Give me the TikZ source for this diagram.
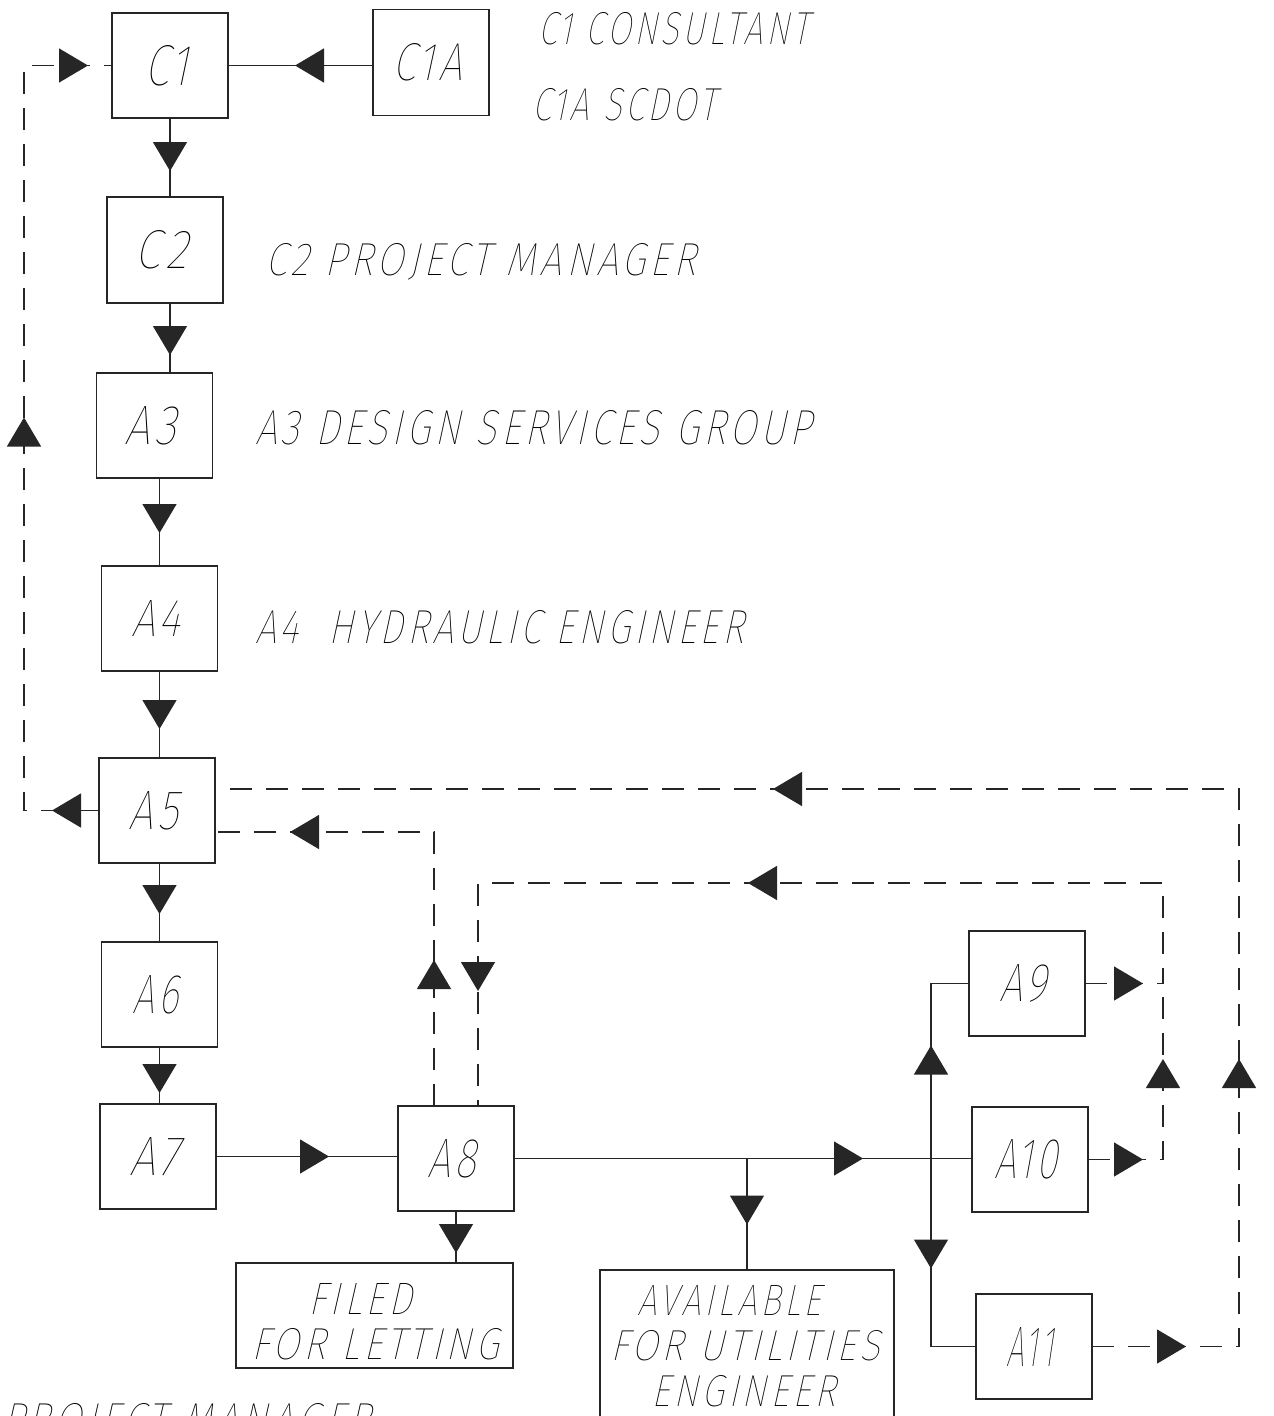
\documentclass[tikz,border=0pt]{standalone}
\usepackage{graphicx}
\usepackage{fontspec}
\usetikzlibrary{arrows.meta,decorations.markings}
\def\cadname{Liberation Sans}
\IfFontExistsTF{Latin Modern Mono Light Cond}{\def\cadname{Latin Modern Mono Light Cond}}{}
\IfFontExistsTF{Poppins Light}{\def\cadname{Poppins Light}}{}
\IfFontExistsTF{Lato Light}{\def\cadname{Lato Light}}{}
\IfFontExistsTF{Fira Sans Light}{\def\cadname{Fira Sans Light}}{}
\IfFontExistsTF{Fira Sans ExtraLight}{\def\cadname{Fira Sans ExtraLight}}{}
\IfFontExistsTF{Fira Sans Thin}{\def\cadname{Fira Sans Thin}}{}
\newfontfamily\cad[FakeSlant=0.27,LetterSpace=10]{\cadname}
\newcommand\cadtxt[3]{\resizebox{#1pt}{#2pt}{\cad\fontsize{50}{60}\selectfont #3}}
\newcommand\boxlbl[3]{\cadtxt{#1}{#2}{#3}\hspace*{8pt}}
\tikzset{
  tri/.tip={Triangle[length=29pt,width=34pt]},
  arrowat/.style={postaction={decorate,decoration={markings,mark=at position #1 with {\arrow{tri}}}}},
  conn/.style={line width=1.3pt, draw=black!85},
  dsh/.style={conn, dash pattern=on 22pt off 14pt},
  box/.style={draw=black!85, line width=1.3pt, minimum width=116pt, minimum height=105pt, inner sep=0pt, outer sep=0pt},
  lbl/.style={anchor=base west, inner sep=0pt, outer sep=0pt},
}
\begin{document}
\begin{tikzpicture}[x=1pt,y=-1pt]
\fill[white] (0,0) rectangle (1274,1416);
\useasboundingbox (0,0) rectangle (1274,1416);

% boxes
\node[box] (C1)  at (170,65.5)  {\boxlbl{44}{40}{C1}};
\node[box, minimum height=106pt] (C1A) at (431,62.5) {\boxlbl{70}{37}{C1A}};
\node[box, minimum height=106pt] (C2)  at (165,250) {\boxlbl{52}{38}{C2}};
\node[box] (A3)  at (154.5,425.5) {\boxlbl{52}{38}{A3}};
\node[box] (A4)  at (159.5,618.5) {\boxlbl{49}{36}{A4}};
\node[box] (A5)  at (157,810.5)   {\boxlbl{50}{38}{A5}};
\node[box] (A6)  at (159.5,994.5) {\boxlbl{46}{38}{A6}};
\node[box] (A7)  at (158,1156.5)  {\boxlbl{50}{38}{A7}};
\node[box] (A8)  at (456,1158.5)  {\boxlbl{49}{38}{A8}};
\node[box] (A9)  at (1027,983.5)  {\boxlbl{48}{37}{A9}};
\node[box] (A10) at (1030,1159.5) {\boxlbl{64}{39}{A10}};
\node[box] (A11) at (1034,1346.5) {\boxlbl{47}{39}{A11}};
\node[box, minimum width=277pt] (FILED) at (374.5,1315.5) {};
\node[box, minimum width=294pt, minimum height=170pt] (AV) at (747,1355) {};

% texts
\node[lbl] (tC1)  at (538,45)  {\cadtxt{271}{32}{C1 CONSULTANT}};
\node[lbl] (tC1A) at (532,120) {\cadtxt{184}{32}{C1A SCDOT}};
\node[lbl] (tC2)  at (265,275) {\cadtxt{431}{32}{C2 PROJECT MANAGER}};
\node[lbl] (tA3)  at (255,444) {\cadtxt{557}{34}{A3 DESIGN SERVICES GROUP}};
\node[lbl] (tA4)  at (255,643) {\cadtxt{489}{33}{A4\ \ HYDRAULIC ENGINEER}};
\node[lbl] (tF1)  at (308,1314) {\cadtxt{104}{31}{FILED}};
\node[lbl] (tF2)  at (251,1359) {\cadtxt{248}{31}{FOR LETTING}};
\node[lbl] (tV1)  at (637,1315) {\cadtxt{184}{30}{AVAILABLE}};
\node[lbl] (tV2)  at (610,1360) {\cadtxt{270}{30}{FOR UTILITIES}};
\node[lbl] (tV3)  at (651,1406) {\cadtxt{185}{31}{ENGINEER}};
\node[lbl] (tPM)  at (2,1435)  {\cadtxt{369}{32}{PROJECT MANAGER}};

% helper coordinates
\coordinate (cL) at (24,0);
\coordinate (u1) at (434,832);
\coordinate (u2) at (1163,883);
\coordinate (v2) at (478,883);
\coordinate (u3) at (1239,789);
\coordinate (j2) at (931,1158.5);

% solid connectors
\draw[conn, arrowat=53pt] (C1.south) -- (C1.south |- C2.north);
\draw[conn, arrowat=52pt] (C1.south |- C2.south) -- (C1.south |- A3.north);
\draw[conn, arrowat=55pt] (A4.north |- A3.south) -- (A4.north);
\draw[conn, arrowat=58pt] (A4.south) -- (A4.south |- A5.north);
\draw[conn, arrowat=51pt] (A6.north |- A5.south) -- (A6.north);
\draw[conn, arrowat=46pt] (A6.south) -- (A6.south |- A7.north);
\draw[conn, arrowat=78pt] (C1A.west |- C1.east) -- (C1.east);
\draw[conn, arrowat=113pt] (A7.east) -- (A7.east -| A8.west);
\draw[conn, arrowat=349pt] (A8.east) -- (A8.east -| A10.west);
\draw[conn, arrowat=66pt] (A8.east -| AV.north) -- (AV.north);
\draw[conn, arrowat=42pt] (A8.south) -- (A8.south |- FILED.north);
\draw[conn, arrowat=113pt] (j2) |- (A9.west);
\draw[conn, arrowat=110pt] (j2) |- (A11.west);

% dashed connectors
\draw[dsh, arrowat=47pt, arrowat=468pt, arrowat=884pt] (A5.west) -- (A5.west -| cL) |- (C1.west);
\draw[dsh, arrowat=146pt, arrowat=418pt] (A8.north -| u1) |- (A5.east |- u1);
\draw[dsh, arrowat=58pt, arrowat=593.5pt, arrowat=971.5pt] (A9.east) -| (u2) -- (v2) -- (A8.north -| v2);
\draw[dsh, arrowat=55pt, arrowat=175.5pt] (A10.east) -| (A9.east -| u2);
\draw[dsh, arrowat=94pt, arrowat=434.5pt, arrowat=1170.5pt] (A11.east) -| (u3) -- (A5.east |- u3);
\end{tikzpicture}
\end{document}
